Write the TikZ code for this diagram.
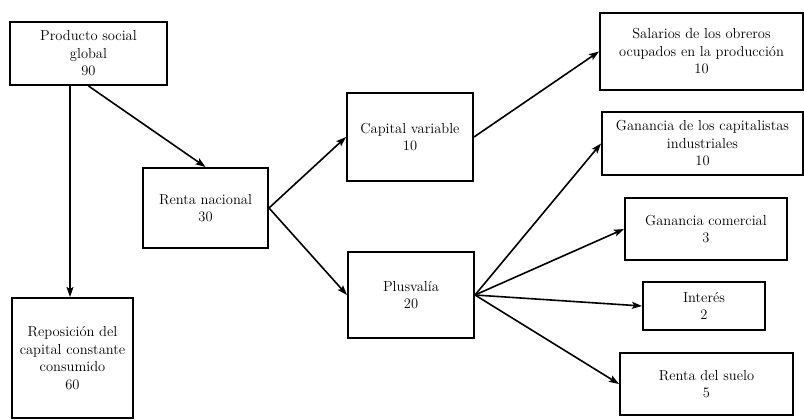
\documentclass[tikz,border=0pt]{standalone}
\usetikzlibrary{arrows.meta}
\begin{document}
\begin{tikzpicture}[x=1pt,y=-1pt,
  box/.style={draw,line width=2pt,rectangle,inner sep=0pt,align=center,
    font=\fontsize{14.5}{17.5}\selectfont},
  arr/.style={line width=1.6pt,-{Stealth[length=10pt,width=7pt,inset=2pt]}}]
\useasboundingbox (0,0) rectangle (804,420);
\node[box,minimum width=157pt,minimum height=63pt] (prod) at (88.5,53.5) {Producto social\\global\\90};
\node[box,minimum width=121pt,minimum height=120pt] (repo) at (72.5,358) {Reposición del\\capital constante\\consumido\\60};
\node[box,minimum width=125pt,minimum height=80pt] (renta) at (205.5,208) {Renta nacional\\30};
\node[box,minimum width=126pt,minimum height=88pt] (cap) at (410,137) {Capital variable\\10};
\node[box,minimum width=126pt,minimum height=86pt] (plus) at (411,295) {Plusvalía\\20};
\node[box,minimum width=203pt,minimum height=77pt] (sal) at (701.5,51.5) {Salarios de los obreros\\ocupados en la producción\\10};
\node[box,minimum width=201pt,minimum height=63pt] (gcap) at (702.5,143.5) {Ganancia de los capitalistas\\industriales\\10};
\node[box,minimum width=162pt,minimum height=62pt] (gcom) at (706,229) {Ganancia comercial\\3};
\node[box,minimum width=122pt,minimum height=48pt] (int) at (704,306) {Interés\\2};
\node[box,minimum width=173pt,minimum height=62pt] (suelo) at (706.5,384) {Renta del suelo\\5};
\draw[arr] ([xshift=-2.5pt]repo.north |- prod.south) -- ([xshift=-2.5pt]repo.north);
\draw[arr] (prod.south) -- (renta.north);
\draw[arr] (renta.east) -- (cap.west);
\draw[arr] (renta.east) -- (plus.west);
\draw[arr] (cap.east) -- (sal.west);
\draw[arr] (plus.east) -- (gcap.west);
\draw[arr] (plus.east) -- (gcom.west);
\draw[arr] (plus.east) -- (int.west);
\draw[arr] (plus.east) -- (suelo.west);
\end{tikzpicture}
\end{document}
